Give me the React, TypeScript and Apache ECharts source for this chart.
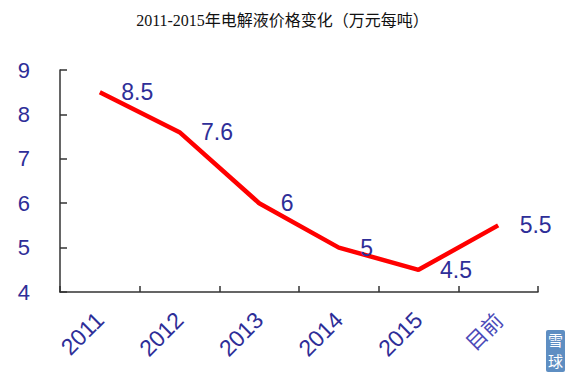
import React, { useEffect, useRef } from "react";
import * as echarts from "echarts";

const titleText = "2011-2015年电解液价格变化（万元每吨）";
const categories = ["2011", "2012", "2013", "2014", "2015", "目前"];
const prices = [8.5, 7.6, 6, 5, 4.5, 5.5];
const yMin = 4;
const yMax = 9;
const yInterval = 1;

const BLUE = "#2E2E98";

export default function App() {
  const ref = useRef<HTMLDivElement>(null);
  useEffect(() => {
    if (!ref.current) return;
    const chart = echarts.init(ref.current, null, { renderer: "svg" });
    chart.setOption({
      animation: false,
      backgroundColor: "#ffffff",
      title: {
        text: titleText,
        left: "center",
        top: 7,
        textStyle: {
          fontFamily: "'Liberation Serif', 'Noto Sans CJK SC', serif",
          fontSize: 16,
          fontWeight: "normal",
          color: "#111",
        },
      },
      grid: { left: 60, right: 27, top: 70, bottom: 88, containLabel: false },
      xAxis: {
        type: "category",
        data: categories.map((c, i) =>
          i === categories.length - 1
            ? { value: c, textStyle: { color: "#4A4AB8", fontFamily: "'Noto Sans CJK SC', sans-serif", fontSize: 21 } }
            : c
        ),
        boundaryGap: true,
        axisLine: { lineStyle: { color: "#333", width: 1.5 } },
        axisTick: { show: true, inside: true, length: 6, lineStyle: { color: "#333", width: 1.5 } },
        axisLabel: {
          rotate: 45,
          margin: 24,
          color: BLUE,
          fontSize: 23,
          fontFamily: "'Liberation Sans', Arial, sans-serif",
        },
        splitLine: { show: false },
      },
      yAxis: {
        type: "value",
        min: yMin,
        max: yMax,
        interval: yInterval,
        axisLine: { show: true, lineStyle: { color: "#333", width: 1.5 } },
        axisTick: { show: true, inside: true, length: 7, lineStyle: { color: "#333", width: 1.5 } },
        axisLabel: {
          margin: 30,
          color: BLUE,
          fontSize: 22,
          fontFamily: "'Liberation Sans', Arial, sans-serif",
        },
        splitLine: { show: false },
      },
      series: [
        {
          type: "line",
          data: prices,
          symbol: "circle",
          symbolSize: 1,
          showSymbol: true,
          itemStyle: { color: "rgba(255,0,0,0)" },
          lineStyle: { color: "#FF0000", width: 4.5 },
          label: {
            show: true,
            position: "right",
            distance: 21,
            color: BLUE,
            fontSize: 23,
            fontFamily: "'Liberation Sans', Arial, sans-serif",
          },
        },
      ],
      graphic: [
        {
          type: "rect",
          shape: { x: 546, y: 330, width: 19, height: 42, r: 2 },
          style: { fill: "#5E8EC2" },
        },
        {
          type: "text",
          x: 548,
          y: 332,
          style: {
            text: "雪",
            fill: "#ffffff",
            fontSize: 15,
            fontFamily: "'Noto Sans CJK SC', sans-serif",
          },
        },
        {
          type: "text",
          x: 548,
          y: 353,
          style: {
            text: "球",
            fill: "#ffffff",
            fontSize: 15,
            fontFamily: "'Noto Sans CJK SC', sans-serif",
          },
        },
      ],
    });
    return () => chart.dispose();
  }, []);
  return <div ref={ref} style={{ width: 565, height: 380, position: "absolute", left: 0, top: 0 }} />;
}
